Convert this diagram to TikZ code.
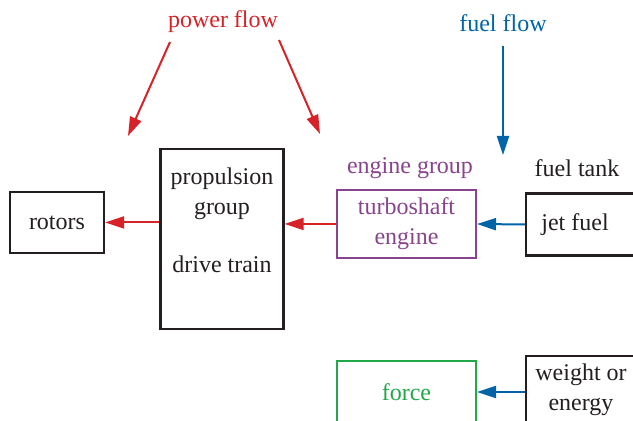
\documentclass[tikz,border=0pt]{standalone}
\usepackage{fontspec}
\setmainfont{Liberation Serif}
\usetikzlibrary{positioning}
\usetikzlibrary{arrows.meta}
\definecolor{flowred}{RGB}{214,34,40}
\definecolor{flowblue}{RGB}{0,100,166}
\definecolor{grppurple}{RGB}{136,68,140}
\definecolor{forcegreen}{RGB}{34,168,72}
\definecolor{inkgray}{RGB}{35,31,32}
\tikzset{
    blockb/.style = {rectangle, draw=inkgray, text=inkgray, line width=1.1pt, align=center, minimum height=31pt},
    blockp/.style = {rectangle, draw=grppurple, text=grppurple, line width=1pt, align=center, minimum width=69.5pt, minimum height=31pt},
    blockg/.style = {rectangle, draw=forcegreen, text=forcegreen, line width=1pt, align=center, minimum width=69.5pt, minimum height=31pt},
    lbl/.style = {inner sep=1pt, align=center, text=inkgray},
    edger/.style = {-{Triangle[length=9.5pt,width=6pt]}, line width=1pt, flowred},
    edgeb/.style = {-{Triangle[length=9.5pt,width=6pt]}, line width=1pt, flowblue},
    every picture/.style={font issue=\fontsize{12}{15}},
    font issue/.style={execute at begin picture={#1\selectfont}}
}
\begin{document}
\begin{tikzpicture}[x=0.5pt,y=-0.5pt]
\useasboundingbox (0,0) rectangle (633,421);
\clip (0,0) rectangle (633,421);
%
\node[blockb, minimum width=47pt, minimum height=30.5pt] at (57,222.5) (rot) {rotors};
\node[blockb, minimum width=61.5pt, minimum height=90pt] at (222,239) (prop) {};
\node[lbl] at (222,220) (proptxt) {propulsion\\group\\[14pt]drive train};
\node[blockp] at (406.5,224) (eng) {turboshaft\\engine};
\node[blockb, minimum width=55pt] at (581,224.5) (jet) {\hspace*{-6pt}jet fuel};
\node[blockg] at (406.5,392) (force) {force};
\node[blockb, minimum width=55pt, minimum height=32pt] at (581,390) (wgt) {weight or\\energy};
%
\node[lbl, text=grppurple] at (410,168) (egrp) {engine group};
\node[lbl] at (577,168) (tank) {fuel tank};
\node[lbl, text=flowred] at (223,22) (pf) {power flow};
\node[lbl, text=flowblue] at (503,23) (ff) {fuel flow};
%
\coordinate (pl0) at (170,42);
\coordinate (pl1) at (128,136);
\coordinate (pr0) at (279,40);
\coordinate (pr1) at (320,134);
\coordinate (fe) at (503,155);
%
\draw[edger] (prop.west |- rot.east) -- (rot.east);
\draw[edger] (eng.west) -- (prop.east |- eng.west);
\draw[edgeb] (jet.west) -- (eng.east);
\draw[edgeb] (wgt.west |- force.east) -- (force.east);
\draw[edger] (pl0) -- (pl1);
\draw[edger] (pr0) -- (pr1);
\draw[edgeb, shorten <=6pt] (ff.south) -- (fe);

\end{tikzpicture}
\end{document}
